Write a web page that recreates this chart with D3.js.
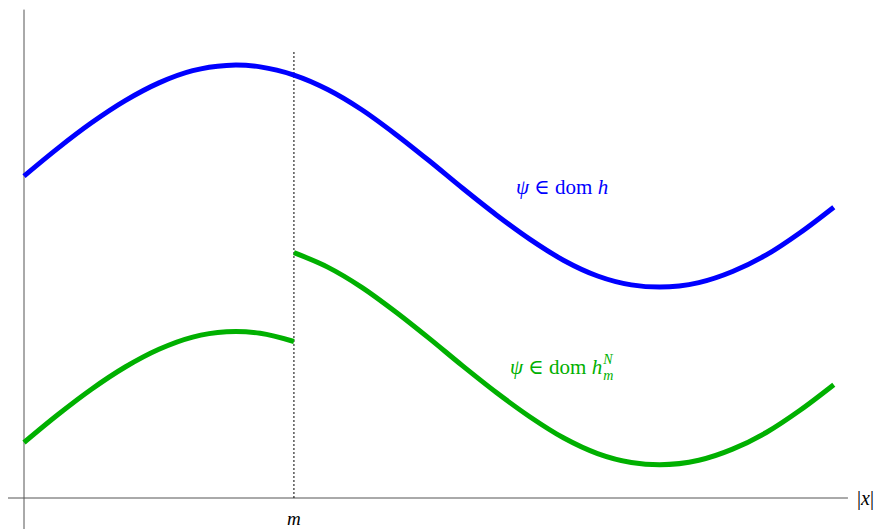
<!DOCTYPE html>
<html>
<head>
<meta charset="utf-8">
<script src="https://cdn.jsdelivr.net/npm/d3@7"></script>
<style>
  html, body { margin: 0; padding: 0; background: #fff; overflow: hidden; }
  text { font-family: "Liberation Serif", "DejaVu Serif", serif; }
</style>
</head>
<body>
<div id="chart"></div>
<script>
// x positions (phase units, m = 2)
const xBlue = [0, 0.25, 0.5, 0.75, 1.0, 1.25, 1.5, 1.57, 1.75, 2.0, 2.25, 2.5, 2.75, 3.0,
               3.25, 3.5, 3.75, 4.0, 4.25, 4.5, 4.71, 5.0, 5.25, 5.5, 5.75, 6.0];
const yBlue = [2.90, 3.15, 3.38, 3.58, 3.74, 3.85, 3.897, 3.90, 3.884, 3.81, 3.68, 3.50, 3.28, 3.04,
               2.79, 2.55, 2.33, 2.14, 2.00, 1.92, 1.90, 1.94, 2.04, 2.19, 2.39, 2.62];

const xGreenLeft = [0, 0.25, 0.5, 0.75, 1.0, 1.25, 1.5, 1.57, 1.75, 2.0];
const yGreenLeft = [0.50, 0.75, 0.98, 1.18, 1.34, 1.45, 1.497, 1.50, 1.484, 1.41];

const xGreenRight = [2.0, 2.25, 2.5, 2.75, 3.0, 3.25, 3.5, 3.75, 4.0,
                     4.25, 4.5, 4.71, 5.0, 5.25, 5.5, 5.75, 6.0];
const yGreenRight = [2.21, 2.08, 1.90, 1.68, 1.44, 1.19, 0.95, 0.73, 0.54,
                     0.40, 0.32, 0.30, 0.34, 0.44, 0.59, 0.79, 1.02];

const mValue = 2;
const xAxisEnd = 6.105;

const width = 878, height = 529;
const blue = "#0000ff", green = "#00b000";

const svg = d3.select("#chart").append("svg")
    .attr("width", width)
    .attr("height", height)
    .style("display", "block");

const xScale = d3.scaleLinear().domain([0, 2 * Math.PI]).range([24, 872]);
const yScale = d3.scaleLinear().domain([0, 4.4]).range([498, 9.6]);

// axes
svg.append("line")
    .attr("x1", 8).attr("x2", xScale(xAxisEnd))
    .attr("y1", yScale(0)).attr("y2", yScale(0))
    .attr("stroke", "#555").attr("stroke-width", 1);
svg.append("line")
    .attr("x1", xScale(0)).attr("x2", xScale(0))
    .attr("y1", yScale(4.4)).attr("y2", height)
    .attr("stroke", "#555").attr("stroke-width", 1);

// dotted marker at m
svg.append("line")
    .attr("x1", xScale(mValue)).attr("x2", xScale(mValue))
    .attr("y1", 52).attr("y2", yScale(0))
    .attr("stroke", "#000").attr("stroke-width", 1)
    .attr("stroke-dasharray", "2,2");

const line = d3.line()
    .x((d) => xScale(d[0]))
    .y((d) => yScale(d[1]))
    .curve(d3.curveMonotoneX);

const series = [
    { xs: xBlue, ys: yBlue, color: blue },
    { xs: xGreenLeft, ys: yGreenLeft, color: green },
    { xs: xGreenRight, ys: yGreenRight, color: green }
];

svg.append("g")
    .selectAll("path")
    .data(series)
    .join("path")
    .attr("d", (s) => line(s.xs.map((x, i) => [x, s.ys[i]])))
    .attr("fill", "none")
    .attr("stroke", (s) => s.color)
    .attr("stroke-width", 5);

// labels
const blueLabel = svg.append("text")
    .attr("x", 516).attr("y", 194)
    .attr("font-size", 21).attr("fill", blue);
blueLabel.append("tspan").attr("font-style", "italic").text("ψ");
blueLabel.append("tspan").text(" ∈ dom ");
blueLabel.append("tspan").attr("font-style", "italic").text("h");

const greenLabel = svg.append("text")
    .attr("x", 510).attr("y", 374)
    .attr("font-size", 21).attr("fill", green);
greenLabel.append("tspan").attr("font-style", "italic").text("ψ");
greenLabel.append("tspan").text(" ∈ dom ");
greenLabel.append("tspan").attr("font-style", "italic").text("h");
const hEnd = greenLabel.node().getComputedTextLength() + 510;
svg.append("text")
    .attr("x", hEnd + 1).attr("y", 364)
    .attr("font-size", 14).attr("font-style", "italic").attr("fill", green)
    .text("N");
svg.append("text")
    .attr("x", hEnd + 1).attr("y", 380)
    .attr("font-size", 14).attr("font-style", "italic").attr("fill", green)
    .text("m");

svg.append("text")
    .attr("x", 857).attr("y", 505)
    .attr("font-size", 20).attr("fill", "#000")
    .html('|<tspan font-style="italic">x</tspan>|');

svg.append("text")
    .attr("x", xScale(mValue)).attr("y", 525)
    .attr("text-anchor", "middle")
    .attr("font-size", 19).attr("font-style", "italic").attr("fill", "#000")
    .text("m");
</script>
</body>
</html>
